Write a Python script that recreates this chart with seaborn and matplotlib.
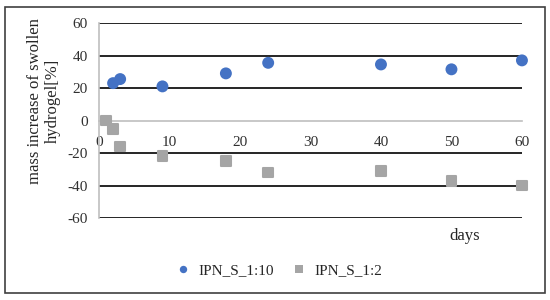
import pandas as pd
import seaborn as sns
import matplotlib.pyplot as plt
from matplotlib.patches import Rectangle

# ---- data ----
days_110 = [2, 3, 9, 18, 24, 40, 50, 60]
mass_110 = [23, 25.5, 21, 29, 35.5, 34.5, 31.5, 37]

days_12 = [1, 2, 3, 9, 18, 24, 40, 50, 60]
mass_12 = [0, -5, -16, -22, -25, -32, -31, -37, -40]

y_ticks = [-60, -40, -20, 0, 20, 40, 60]
x_ticks = [0, 10, 20, 30, 40, 50, 60]

df = pd.concat([
    pd.DataFrame({'days': days_110, 'mass': mass_110, 'series': 'IPN_S_1:10'}),
    pd.DataFrame({'days': days_12, 'mass': mass_12, 'series': 'IPN_S_1:2'}),
])

sns.set_style('white')
plt.rcParams['font.family'] = ['Liberation Serif', 'DejaVu Serif']
plt.rcParams['font.size'] = 11
plt.rcParams['axes.unicode_minus'] = False

fig = plt.figure(figsize=(5.5, 3), dpi=100)
ax = fig.add_axes([0.18, 0.2733, 0.769, 0.65])

blue = '#4472C4'
gray = '#A5A5A5'

# horizontal grid lines (black), zero line is the x axis
for yv in y_ticks:
    if yv != 0:
        ax.axhline(yv, color='black', lw=1.2, zorder=1)

sns.scatterplot(data=df, x='days', y='mass', hue='series', style='series',
                palette={'IPN_S_1:10': blue, 'IPN_S_1:2': gray},
                markers={'IPN_S_1:10': 'o', 'IPN_S_1:2': 's'},
                s=50, linewidth=1.5, edgecolor='face', ax=ax, zorder=3,
                clip_on=False)
for coll in ax.collections:
    coll.set_joinstyle('round')

ax.set_xlim(0, 60)
ax.set_ylim(-60, 60)
ax.set_yticks(y_ticks)
ax.set_xticks(x_ticks)

for s in ['top', 'right']:
    ax.spines[s].set_visible(False)
ax.spines['bottom'].set_position(('data', 0))
ax.spines['bottom'].set_color('#BFBFBF')
ax.spines['left'].set_color('#BFBFBF')
ax.spines['bottom'].set_linewidth(1.2)
ax.spines['left'].set_linewidth(1.2)

ax.tick_params(axis='x', direction='inout', length=7, width=1, color='#BFBFBF',
               pad=8, labelsize=11, labelcolor='#303030')
ax.tick_params(axis='y', length=0, pad=8, labelsize=11, labelcolor='#303030')

ax.set_xlabel('')
ax.set_ylabel('mass increase of swollen\nhydrogel[%]', fontsize=12)
ax.yaxis.set_label_coords(-0.09, 0.6)
fig.text(0.845, 0.215, 'days', fontsize=12, ha='center', va='center')

handles, labels = ax.get_legend_handles_labels()
for h in handles:
    h.set_markeredgewidth(0)
ax.legend(handles, labels, loc='center', bbox_to_anchor=(0.5, 0.1),
          bbox_transform=fig.transFigure, ncol=2, frameon=False,
          handletextpad=0.0, columnspacing=0.6, fontsize=11, markerscale=0.75)

fig.patches.append(Rectangle((0.009, 0.023), 0.982, 0.954, transform=fig.transFigure,
                             fill=False, edgecolor='#404040', lw=1.2))

fig.savefig('out.png', dpi=100)
